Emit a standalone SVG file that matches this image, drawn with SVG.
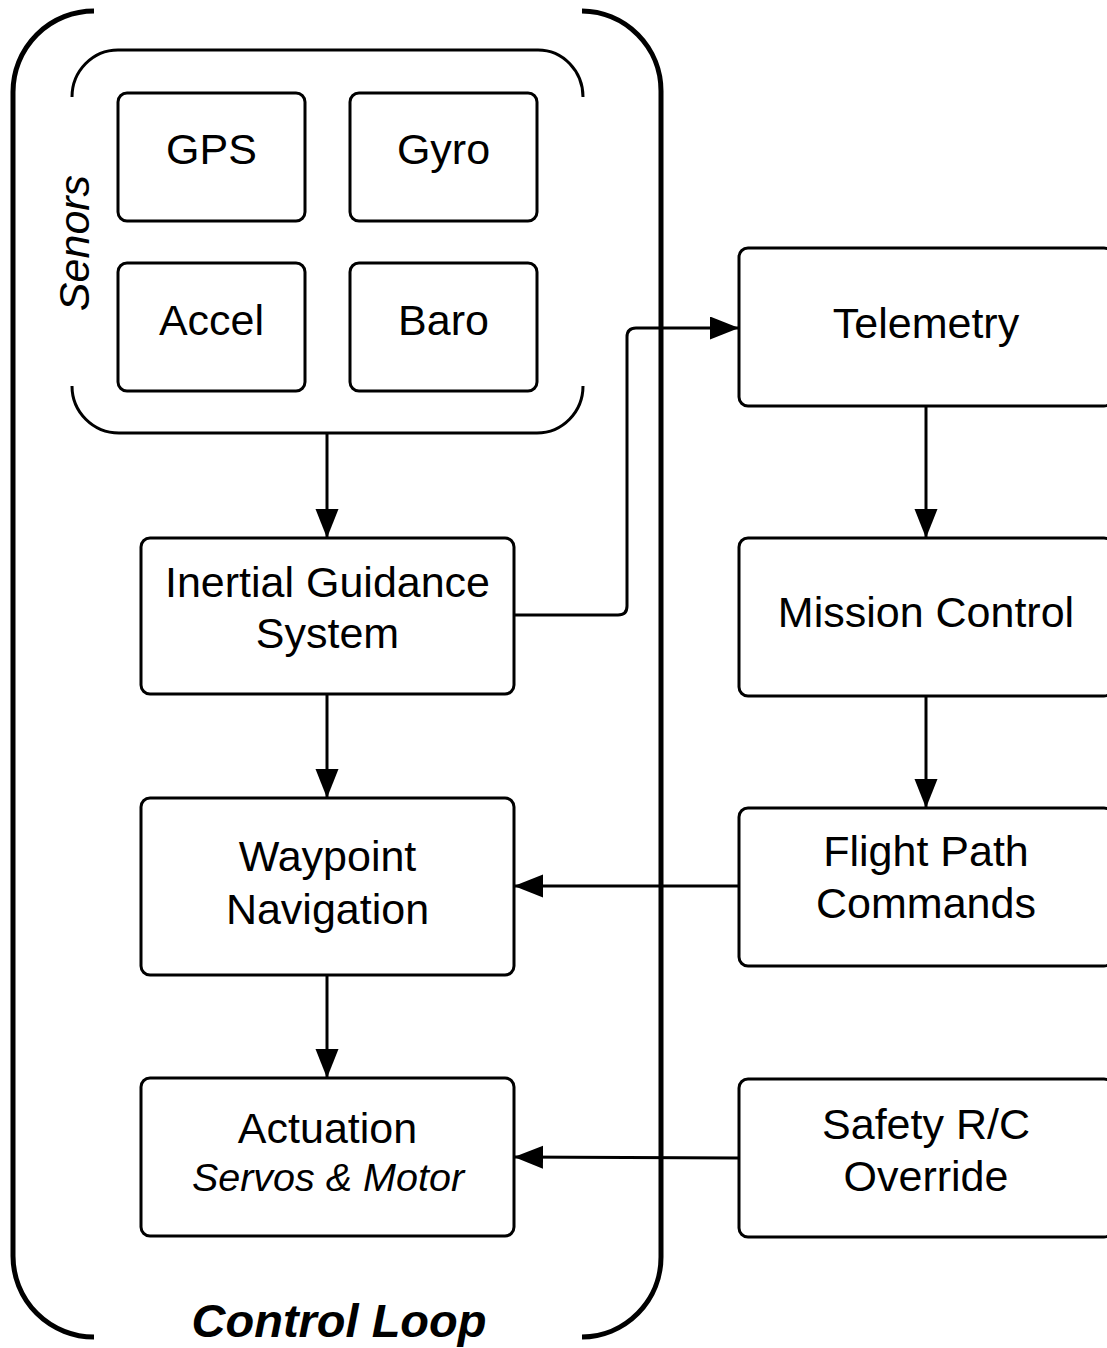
<svg xmlns="http://www.w3.org/2000/svg" width="1107" height="1348" viewBox="0 0 1107 1348">
<defs>
<style>
.box{fill:#fff;stroke:#000;stroke-width:3}
.t{font-family:"Liberation Sans",Arial,sans-serif;font-size:43px;fill:#000;text-anchor:middle}
.it{font-style:italic}
.conn{fill:none;stroke:#000;stroke-width:3}
.bracket{fill:none;stroke:#000;stroke-width:5}
.sbracket{fill:none;stroke:#000;stroke-width:3}
</style>
<marker id="arr" markerUnits="userSpaceOnUse" markerWidth="30" markerHeight="24" refX="29" refY="11.5" orient="auto">
<path d="M0,0 L29,11.5 L0,23 z" fill="#000"/>
</marker>
</defs>
<rect width="1107" height="1348" fill="#fff"/>

<g id="control-loop">
<path class="bracket" d="M94 11 A81 81 0 0 0 13 92 L13 1256 A81 81 0 0 0 94 1337"/>
<path class="bracket" d="M582 11 A80 80 0 0 1 661 91 L661 1257 A80 80 0 0 1 582 1337"/>
<text class="t it" x="339" y="1337" style="font-size:47px;font-weight:bold">Control Loop</text>
</g>

<g id="sensors">
<path class="sbracket" d="M72 97 A46 47 0 0 1 118 50 L538 50 A45 47 0 0 1 583 97"/>
<path class="sbracket" d="M72 386 A47 47 0 0 0 119 433 L537 433 A46 47 0 0 0 583 386"/>
<text class="t it" transform="translate(89 243) rotate(-90)" x="0" y="0">Senors</text>
</g>

<g id="connectors">
<path class="conn" d="M327 434 L327 538" marker-end="url(#arr)"/>
<path class="conn" d="M327 695 L327 798" marker-end="url(#arr)"/>
<path class="conn" d="M327 976 L327 1078" marker-end="url(#arr)"/>
<path class="conn" d="M926 407 L926 538" marker-end="url(#arr)"/>
<path class="conn" d="M926 697 L926 808" marker-end="url(#arr)"/>
<path class="conn" d="M739 886 L514 886" marker-end="url(#arr)"/>
<path class="conn" d="M739 1158 L514 1157" marker-end="url(#arr)"/>
<path class="conn" d="M514 615 L618 615 Q627 615 627 606 L627 337 Q627 328 636 328 L739 328" marker-end="url(#arr)"/>
</g>

<g id="gps">
<rect class="box" x="118" y="93" width="187" height="128" rx="9"/>
<text class="t" x="211.5" y="164">GPS</text>
</g>
<g id="gyro">
<rect class="box" x="350" y="93" width="187" height="128" rx="9"/>
<text class="t" x="443.5" y="164">Gyro</text>
</g>
<g id="accel">
<rect class="box" x="118" y="263" width="187" height="128" rx="9"/>
<text class="t" x="211.5" y="335">Accel</text>
</g>
<g id="baro">
<rect class="box" x="350" y="263" width="187" height="128" rx="9"/>
<text class="t" x="443.5" y="335">Baro</text>
</g>

<g id="igs">
<rect class="box" x="141" y="538" width="373" height="156" rx="9"/>
<text class="t" x="327.5" y="597">Inertial Guidance</text>
<text class="t" x="327.5" y="648">System</text>
</g>
<g id="waypoint">
<rect class="box" x="141" y="798" width="373" height="177" rx="9"/>
<text class="t" x="327.5" y="871">Waypoint</text>
<text class="t" x="327.5" y="924">Navigation</text>
</g>
<g id="actuation">
<rect class="box" x="141" y="1078" width="373" height="158" rx="9"/>
<text class="t" x="327.5" y="1143">Actuation</text>
<text class="t it" x="328" y="1191" style="font-size:39.5px">Servos &amp; Motor</text>
</g>

<g id="telemetry">
<rect class="box" x="739" y="248" width="374" height="158" rx="9"/>
<text class="t" x="926" y="338">Telemetry</text>
</g>
<g id="mission-control">
<rect class="box" x="739" y="538" width="374" height="158" rx="9"/>
<text class="t" x="926" y="627">Mission Control</text>
</g>
<g id="flight-path">
<rect class="box" x="739" y="808" width="374" height="158" rx="9"/>
<text class="t" x="926" y="866">Flight Path</text>
<text class="t" x="926" y="918">Commands</text>
</g>
<g id="safety">
<rect class="box" x="739" y="1079" width="374" height="158" rx="9"/>
<text class="t" x="926" y="1139">Safety R/C</text>
<text class="t" x="926" y="1191">Override</text>
</g>
</svg>
